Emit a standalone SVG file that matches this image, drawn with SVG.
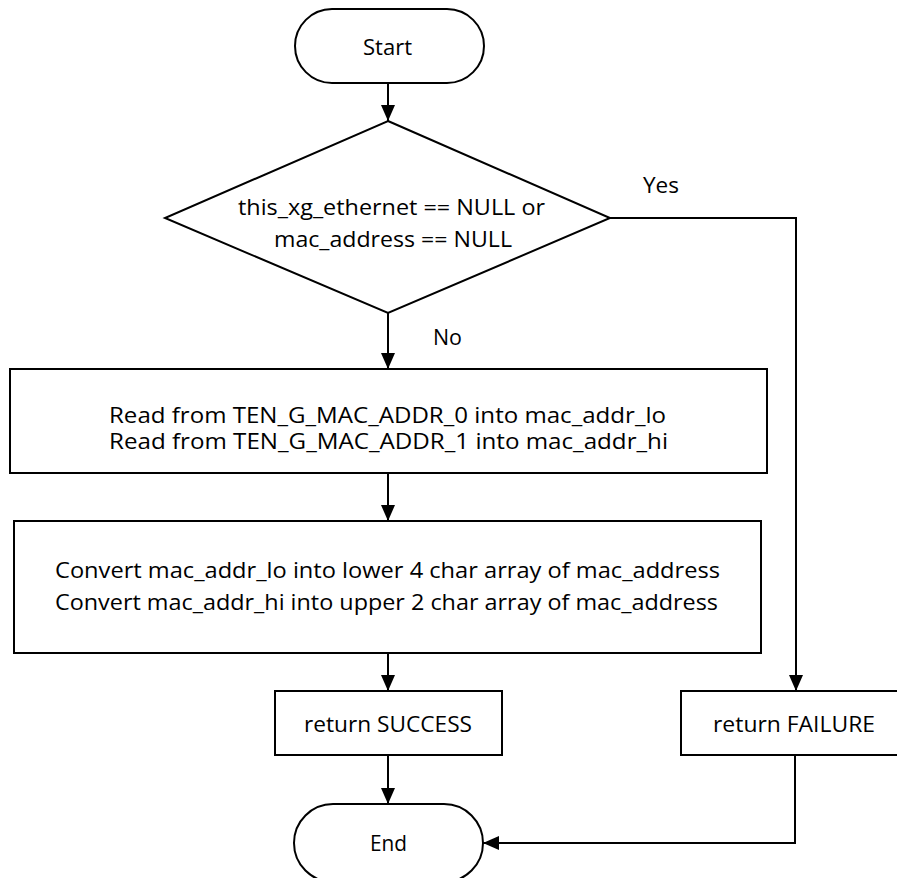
<svg xmlns="http://www.w3.org/2000/svg" width="897" height="878" viewBox="0 0 897 878">
<style>
.s{fill:#fff;stroke:#000;stroke-width:2}
.c{fill:none;stroke:#000;stroke-width:2}
text{font-family:"Open Sans","Liberation Sans",sans-serif;font-size:22px;fill:#000;text-anchor:middle}
.t{font-size:21px}
</style>
<defs>
<marker id="ah" markerUnits="userSpaceOnUse" markerWidth="16" markerHeight="14" refX="16" refY="7" orient="auto">
<path d="M0,0 L16,7 L0,14 z" fill="#000"/>
</marker>
</defs>
<rect width="897" height="878" fill="#fff"/>
<g id="connectors">
<path class="c" d="M388,83 V121" marker-end="url(#ah)"/>
<path class="c" d="M388,313 V369" marker-end="url(#ah)"/>
<path class="c" d="M388,473 V521" marker-end="url(#ah)"/>
<path class="c" d="M388,653 V691" marker-end="url(#ah)"/>
<path class="c" d="M388,755 V804" marker-end="url(#ah)"/>
<path class="c" d="M610,218 H796 V691" marker-end="url(#ah)"/>
<path class="c" d="M795,755 V843 H483" marker-end="url(#ah)"/>
<text x="661" y="193" textLength="36" lengthAdjust="spacingAndGlyphs">Yes</text>
<text x="447.5" y="345" textLength="29" lengthAdjust="spacingAndGlyphs">No</text>
</g>
<g id="start">
<rect class="s" x="295" y="9" width="189" height="74" rx="37"/>
<text x="387.5" y="55" textLength="49" lengthAdjust="spacingAndGlyphs">Start</text>
</g>
<g id="decision">
<polygon class="s" points="388,121 610,218 388,313 165,218"/>
<text x="391.5" y="215" textLength="307" lengthAdjust="spacingAndGlyphs">this_xg_ethernet == NULL or</text>
<text x="393" y="247" textLength="238" lengthAdjust="spacingAndGlyphs">mac_address == NULL</text>
</g>
<g id="read">
<rect class="s" x="10" y="369" width="757" height="104"/>
<text class="t" x="387.5" y="423" textLength="557" lengthAdjust="spacingAndGlyphs">Read from TEN_G_MAC_ADDR_0 into mac_addr_lo</text>
<text class="t" x="388.5" y="449" textLength="559" lengthAdjust="spacingAndGlyphs">Read from TEN_G_MAC_ADDR_1 into mac_addr_hi</text>
</g>
<g id="convert">
<rect class="s" x="14" y="521" width="747" height="132"/>
<text x="387.5" y="578" textLength="665" lengthAdjust="spacingAndGlyphs">Convert mac_addr_lo into lower 4 char array of mac_address</text>
<text x="386.5" y="610" textLength="663" lengthAdjust="spacingAndGlyphs">Convert mac_addr_hi into upper 2 char array of mac_address</text>
</g>
<g id="success">
<rect class="s" x="275" y="691" width="227" height="64"/>
<text x="388" y="732" textLength="168" lengthAdjust="spacingAndGlyphs">return SUCCESS</text>
</g>
<g id="failure">
<rect class="s" x="681" y="691" width="226" height="64"/>
<text x="794" y="732" textLength="162" lengthAdjust="spacingAndGlyphs">return FAILURE</text>
</g>
<g id="end">
<rect class="s" x="294" y="804" width="189" height="78" rx="39"/>
<text x="388.5" y="851" textLength="37" lengthAdjust="spacingAndGlyphs">End</text>
</g>
</svg>
